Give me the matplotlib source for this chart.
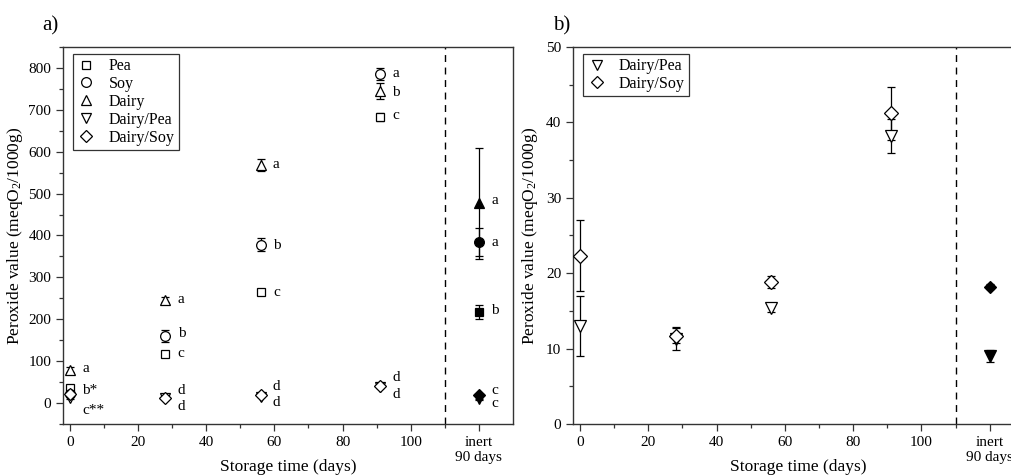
import numpy as np
import matplotlib
matplotlib.use("Agg")
import matplotlib.pyplot as plt
from matplotlib.lines import Line2D
from matplotlib.ticker import MultipleLocator, FixedLocator

plt.rcParams["font.family"] = ["Liberation Serif", "DejaVu Serif"]
plt.rcParams["mathtext.default"] = "regular"

# storage days for the first four points, plus the inert sample at 90 days
days = [0, 28, 56, 91]
inert_x = 120
series = ["Pea", "Soy", "Dairy", "Dairy/Pea", "Dairy/Soy"]

pea = [35, 118, 265, 683]
pea_err = [5, 5, 5, 10]
soy = [22, 160, 378, 785]
soy_err = [5, 15, 15, 15]
dairy = [80, 247, 568, 745]
dairy_err = [5, 5, 15, 18]
dairy_pea = [13.0, 11.3, 15.4, 38.2]
dairy_pea_err = [4.0, 1.5, 0.5, 2.2]
dairy_soy = [22.3, 11.7, 18.8, 41.2]
dairy_soy_err = [4.7, 1.0, 0.8, 3.5]

# inert 90 days (filled markers)
inert_vals = [218, 385, 477, 9.0, 18.2]
inert_err = [17, 33, 133, 0.8, 0.3]

# significance letters in panel a: (x, y, text)
letters_x = [0, 0, 0, 28, 28, 28, 28, 28, 56, 56, 56, 56, 56, 91, 91, 91, 91, 91,
             120, 120, 120, 120, 120]
letters_y = [82, 31, -18, 247, 167, 119, 29, -9, 570, 377, 264, 39, 2, 786, 742, 686, 60, 21,
             483, 384, 220, 29, 0]
letters = ["a", "b*", "c**", "a", "b", "c", "d", "d", "a", "b", "c", "d", "d", "a", "b", "c",
           "d", "d", "a", "a", "b", "c", "c"]

markers = {"Pea": "s", "Soy": "o", "Dairy": "^", "Dairy/Pea": "v", "Dairy/Soy": "D"}
msizes = {"Pea": 6, "Soy": 7, "Dairy": 7, "Dairy/Pea": 7, "Dairy/Soy": 6}


def plot_series(ax, name, y, yerr, inert_y, inert_e, ms_scale=1.0, inert_scale=1.0):
    ms = msizes[name] * ms_scale
    ax.errorbar(days, y, yerr=yerr, fmt=markers[name], ms=ms, mfc="white", mec="black",
                mew=0.9, ecolor="black", elinewidth=0.9, capsize=3, capthick=0.9, zorder=3)
    ax.errorbar([inert_x], [inert_y], yerr=[inert_e], fmt=markers[name], ms=ms * inert_scale,
                mfc="black", mec="black", mew=0.9, ecolor="black", elinewidth=0.9, capsize=3,
                capthick=0.9, zorder=3)


def style_axes(ax, ylabel_x):
    for s in ax.spines.values():
        s.set_color("#333333")
        s.set_linewidth(1.0)
    ax.xaxis.set_major_locator(FixedLocator([0, 20, 40, 60, 80, 100, inert_x]))
    ax.xaxis.set_minor_locator(FixedLocator([10, 30, 50, 70, 90, 110]))
    ax.set_xticklabels(["0", "20", "40", "60", "80", "100", "inert\n90 days"])
    ax.tick_params(which="major", direction="out", length=5, width=0.9, labelsize=11,
                   color="#333333")
    ax.tick_params(which="minor", direction="out", length=3, width=0.9, color="#333333")
    ax.axvline(110, color="black", lw=1.0, ls=(0, (5, 4)), zorder=1)
    ax.set_xlabel("Storage time (days)", fontsize=12.5)
    ax.set_ylabel("Peroxide value (meqO$_2$/1000g)", fontsize=12.5)
    ax.xaxis.set_label_coords(0.5, -0.092)
    ax.yaxis.set_label_coords(ylabel_x, 0.5)


def add_legend(ax, names, anchor):
    handles = [Line2D([], [], ls="none", marker=markers[n], ms=msizes[n], mfc="white",
                      mec="black", mew=0.9) for n in names]
    leg = ax.legend(handles, names, loc="upper left", fontsize=11.5, frameon=True,
                    fancybox=False, edgecolor="black", handlelength=1.2,
                    handletextpad=0.8, labelspacing=0.12, borderpad=0.25,
                    borderaxespad=0, bbox_to_anchor=anchor)
    leg.get_frame().set_linewidth(0.9)


def main():
    fig = plt.figure(figsize=(10.11, 4.75), dpi=100)
    ax_a = fig.add_axes([0.0623, 0.1074, 0.4451, 0.7937])
    ax_b = fig.add_axes([0.5668, 0.1074, 0.4460, 0.7937])

    # panel a
    data = [(pea, pea_err), (soy, soy_err), (dairy, dairy_err),
            (dairy_pea, dairy_pea_err), (dairy_soy, dairy_soy_err)]
    for i, name in enumerate(series):
        plot_series(ax_a, name, data[i][0], data[i][1], inert_vals[i], inert_err[i])
    for x, y, t in zip(letters_x, letters_y, letters):
        ax_a.text(x + 3.6, y, t, ha="left", va="center", fontsize=11)
    ax_a.set_xlim(-2, 130)
    ax_a.set_ylim(-50, 850)
    ax_a.yaxis.set_major_locator(MultipleLocator(100))
    ax_a.yaxis.set_minor_locator(MultipleLocator(50))
    style_axes(ax_a, -0.084)
    add_legend(ax_a, series, (0.022, 0.981))
    fig.text(0.042, 0.945, "a)", fontsize=15, ha="left", va="center")

    # panel b
    for i, name in enumerate(series[3:], start=3):
        plot_series(ax_b, name, data[i][0], data[i][1], inert_vals[i], inert_err[i],
                    ms_scale=1.25, inert_scale=0.8 if name == "Dairy/Soy" else 1.0)
    ax_b.set_xlim(-2, 130)
    ax_b.set_ylim(0, 50)
    ax_b.yaxis.set_major_locator(MultipleLocator(10))
    ax_b.yaxis.set_minor_locator(MultipleLocator(5))
    style_axes(ax_b, -0.073)
    add_legend(ax_b, series[3:], (0.022, 0.981))
    fig.text(0.547, 0.945, "b)", fontsize=15, ha="left", va="center")

    fig.savefig("out.png", dpi=100)
    plt.close(fig)


if __name__ == "__main__":
    main()
